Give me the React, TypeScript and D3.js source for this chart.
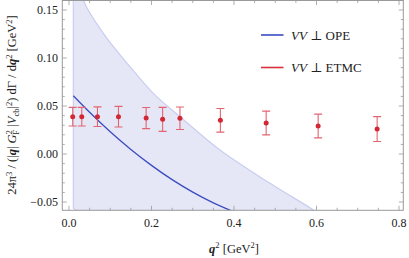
import React, { useEffect, useRef } from "react";
import * as d3 from "d3";

// ETMC lattice points
const etmcQ2 = [0.009, 0.031, 0.069, 0.12, 0.187, 0.227, 0.269, 0.367, 0.478, 0.604, 0.747];
const etmcVal = [0.0389, 0.0389, 0.0389, 0.0389, 0.0375, 0.0361, 0.0372, 0.0351, 0.0323, 0.0292, 0.026];
const etmcErr = [0.0097, 0.0097, 0.0102, 0.0107, 0.011, 0.0125, 0.0117, 0.0123, 0.0124, 0.0124, 0.013];

// OPE central curve
const opeQ2 = [0.0105, 0.05, 0.1, 0.15, 0.2, 0.25, 0.3, 0.35, 0.4];
const opeVal = [0.0607, 0.0435, 0.0232, 0.0048, -0.0118, -0.0267, -0.0397, -0.0509, -0.0603];

// OPE uncertainty band (upper edge, lower edge)
const bandUpperQ2 = [0.022, 0.0347, 0.0832, 0.1479, 0.2044, 0.2691, 0.366, 0.4873, 0.5923, 0.61];
const bandUpperVal = [0.19, 0.1604, 0.1257, 0.0909, 0.0632, 0.0389, 0.0042, -0.0305, -0.0583, -0.064];
const bandLeftQ2 = 0.0105;
const bandLowerQ2 = [0.0105, 0.035, 0.61];
const bandLowerVal = [-0.0565, -0.064, -0.064];

const xTicks = [0, 0.2, 0.4, 0.6, 0.8];
const yTicks = [-0.05, 0, 0.05, 0.1, 0.15];

const legendItems = [
    { name: "OPE", color: "#3a4cc0" },
    { name: "ETMC", color: "#d9303c" },
];

const App = () => {
    const svgRef = useRef<SVGSVGElement>(null);

    useEffect(() => {
        const width = 409;
        const height = 258;
        const left = 62.3;
        const right = 403.3;
        const top = 0.5;
        const bottom = 210.3;
        const font = "Liberation Serif, Times New Roman, DejaVu Serif, serif";
        const frameColor = "#999";

        const svg = d3.select(svgRef.current);
        svg.selectAll("*").remove();
        svg.attr("width", width).attr("height", height);

        const x = d3.scaleLinear().domain([-0.0162, 0.8104]).range([left, right]);
        const y = d3.scaleLinear().domain([-0.0586, 0.1604]).range([bottom, 0]);

        svg.append("defs")
            .append("clipPath")
            .attr("id", "plotclip")
            .append("rect")
            .attr("x", left)
            .attr("y", top)
            .attr("width", right - left)
            .attr("height", bottom - top);

        const plot = svg.append("g").attr("clip-path", "url(#plotclip)");

        // band: upper edge curve, closed via lower edge and left edge
        const upperLine = d3
            .line<number>()
            .x((d, i) => x(bandUpperQ2[i]))
            .y((d) => y(d))
            .curve(d3.curveCatmullRom);
        const upperPath = upperLine(bandUpperVal) as string;
        const lowerPts = bandLowerQ2
            .map((q, i) => [x(q), y(bandLowerVal[i])])
            .reverse();
        const bandPath =
            upperPath +
            lowerPts.map((p) => "L" + p.join(",")).join("") +
            "L" + x(bandLeftQ2) + "," + y(0.19) +
            "L" + x(bandUpperQ2[0]) + "," + y(bandUpperVal[0]) + "Z";
        plot.append("path")
            .attr("d", bandPath)
            .attr("fill", "#e6e7f6")
            .attr("stroke", "none");
        plot.append("path")
            .attr("d", upperPath)
            .attr("fill", "none")
            .attr("stroke", "#c9cdf0")
            .attr("stroke-width", 1.2);
        plot.append("path")
            .attr(
                "d",
                "M" + x(bandLeftQ2) + "," + y(0.19) +
                    "L" + x(bandLowerQ2[0]) + "," + y(bandLowerVal[0]) +
                    "L" + x(bandLowerQ2[1]) + "," + y(bandLowerVal[1])
            )
            .attr("fill", "none")
            .attr("stroke", "#c9cdf0")
            .attr("stroke-width", 1.2);

        // OPE line
        const opeLine = d3
            .line<number>()
            .x((d, i) => x(opeQ2[i]))
            .y((d) => y(d))
            .curve(d3.curveMonotoneX);
        plot.append("path")
            .attr("d", opeLine(opeVal))
            .attr("fill", "none")
            .attr("stroke", legendItems[0].color)
            .attr("stroke-width", 1.3);

        // ETMC error bars
        const capW = 4;
        etmcQ2.forEach((q, i) => {
            const cx = x(q);
            const yTop = y(etmcVal[i] + etmcErr[i]);
            const yBot = y(etmcVal[i] - etmcErr[i]);
            const g = plot.append("g").attr("stroke", "#e26470").attr("stroke-width", 1.1);
            g.append("line").attr("x1", cx).attr("x2", cx).attr("y1", yTop).attr("y2", yBot);
            g.append("line").attr("x1", cx - capW).attr("x2", cx + capW).attr("y1", yTop).attr("y2", yTop);
            g.append("line").attr("x1", cx - capW).attr("x2", cx + capW).attr("y1", yBot).attr("y2", yBot);
            plot.append("circle")
                .attr("cx", cx)
                .attr("cy", y(etmcVal[i]))
                .attr("r", 2.5)
                .attr("fill", "#d22834");
        });

        // frame
        svg.append("rect")
            .attr("x", left)
            .attr("y", top)
            .attr("width", right - left)
            .attr("height", bottom - top)
            .attr("fill", "none")
            .attr("stroke", frameColor)
            .attr("stroke-width", 1);

        const ticks = svg.append("g").attr("stroke", frameColor).attr("stroke-width", 0.8);
        d3.range(0, 0.81, 0.05).forEach((v) => {
            const isMajor = Math.abs(v * 5 - Math.round(v * 5)) < 1e-6;
            const len = isMajor ? 4.5 : 2.5;
            ticks.append("line").attr("x1", x(v)).attr("x2", x(v)).attr("y1", bottom).attr("y2", bottom - len);
            ticks.append("line").attr("x1", x(v)).attr("x2", x(v)).attr("y1", top).attr("y2", top + len);
        });
        d3.range(-0.05, 0.161, 0.01).forEach((v) => {
            const isMajor = Math.abs(v * 20 - Math.round(v * 20)) < 1e-6;
            const len = isMajor ? 4.5 : 2.5;
            ticks.append("line").attr("x1", left).attr("x2", left + len).attr("y1", y(v)).attr("y2", y(v));
            ticks.append("line").attr("x1", right).attr("x2", right - len).attr("y1", y(v)).attr("y2", y(v));
        });

        // tick labels
        svg.append("g")
            .selectAll("text")
            .data(xTicks)
            .join("text")
            .attr("x", (d) => x(d))
            .attr("y", 226.7)
            .attr("text-anchor", "middle")
            .attr("font-family", font)
            .attr("font-size", 12)
            .attr("fill", "#222")
            .text((d) => d.toFixed(1));
        svg.append("g")
            .selectAll("text")
            .data(yTicks)
            .join("text")
            .attr("x", 58)
            .attr("y", (d) => y(d) + 4)
            .attr("text-anchor", "end")
            .attr("font-family", font)
            .attr("font-size", 12)
            .attr("fill", "#222")
            .text((d) => (d < 0 ? "\u2212" + Math.abs(d).toFixed(2) : d.toFixed(2)));

        // x axis label
        const xl = svg.append("text")
            .attr("x", 234)
            .attr("y", 253)
            .attr("text-anchor", "middle")
            .attr("font-family", font)
            .attr("font-size", 12.5)
            .attr("fill", "#222");
        xl.append("tspan").attr("font-weight", "bold").attr("font-style", "italic").text("q");
        xl.append("tspan").attr("font-size", 8.5).attr("dy", -5).text("2");
        xl.append("tspan").attr("dy", 5).text(" [GeV");
        xl.append("tspan").attr("font-size", 8.5).attr("dy", -5).text("2");
        xl.append("tspan").attr("dy", 5).text("]");

        // y axis label
        const yl = svg.append("text")
            .attr("transform", "translate(16,105) rotate(-90)")
            .attr("text-anchor", "middle")
            .attr("font-family", font)
            .attr("font-size", 12.5)
            .attr("fill", "#222");
        const parts: [string, string][] = [
            ["n", "24\u03c0"],
            ["sup", "3"],
            ["n", " / (|"],
            ["b", "q"],
            ["n", "| "],
            ["i", "G"],
            ["sup", "2"],
            ["subback", "F"],
            ["n", " |"],
            ["i", "V"],
            ["sub", "cb"],
            ["n", "|"],
            ["sup", "2"],
            ["n", ") d\u0393 / d"],
            ["b", "q"],
            ["sup", "2"],
            ["n", " [GeV"],
            ["sup", "2"],
            ["n", "]"],
        ];
        let shift = 0;
        parts.forEach(([kind, txt]) => {
            const t = yl.append("tspan");
            if (kind === "sup" || kind === "sub" || kind === "subback") {
                const target = kind === "sup" ? -4.5 : 3;
                t.attr("font-size", 8.5).attr("dy", target - shift);
                if (kind === "subback") t.attr("dx", -4.5);
                shift = target;
            } else {
                t.attr("dy", -shift);
                shift = 0;
                if (kind === "b") t.attr("font-weight", "bold").attr("font-style", "italic");
                if (kind === "i") t.attr("font-style", "italic");
            }
            t.text(txt);
        });

        // legend
        legendItems.forEach((item, i) => {
            const ly = 35 + i * 32.5;
            svg.append("line")
                .attr("x1", 261)
                .attr("x2", 283.5)
                .attr("y1", ly)
                .attr("y2", ly)
                .attr("stroke", item.color)
                .attr("stroke-width", 1.6);
            const t = svg.append("text")
                .attr("x", 291)
                .attr("y", ly + 4.5)
                .attr("font-family", font)
                .attr("font-size", 13)
                .attr("fill", "#222");
            t.append("tspan").attr("font-style", "italic").text("VV");
            t.append("tspan").text(" \u22a5 " + item.name);
        });
    }, []);

    return (
        <svg
            ref={svgRef}
            style={{ position: "absolute", left: 0, top: 0, display: "block" }}
        ></svg>
    );
};

export default App;
